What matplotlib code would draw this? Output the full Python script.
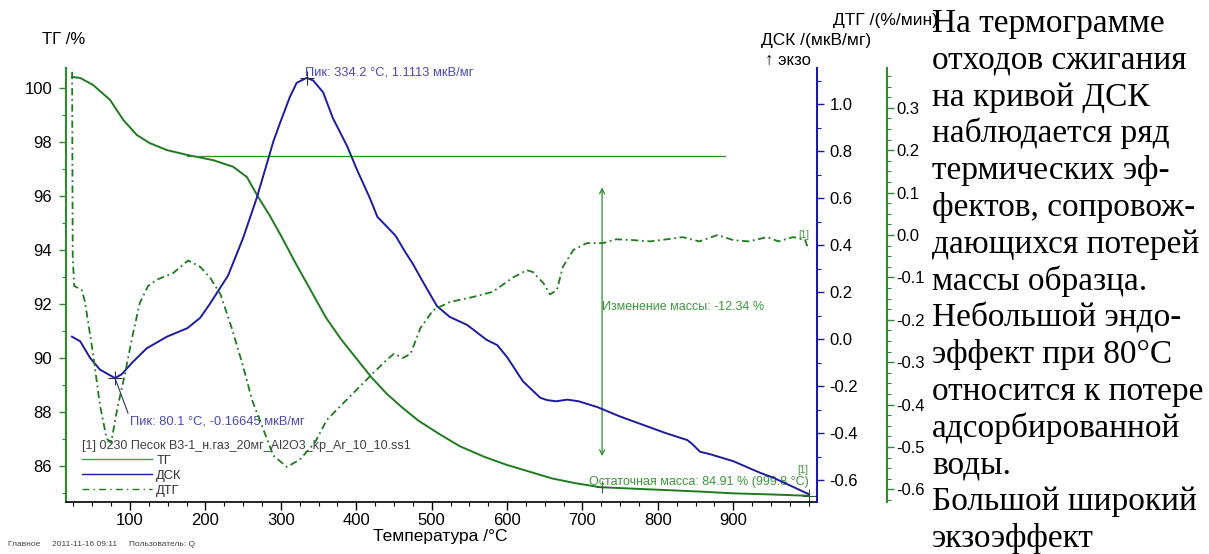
import matplotlib
matplotlib.use('Agg')
import matplotlib.pyplot as plt
import matplotlib.ticker as mticker
from matplotlib.lines import Line2D

plt.rcParams['font.family'] = ['Liberation Sans', 'DejaVu Sans']
plt.rcParams['axes.unicode_minus'] = False

# ТГ, %
tg_t = [23, 34, 51, 73.5, 91, 109, 126, 149, 176, 210, 237, 255, 270, 285, 300, 320, 340,
        360, 380, 400, 420, 440, 460, 482, 510, 537, 570, 600, 630, 660, 690, 723, 770,
        812, 860, 900, 950, 999.8]
tg_v = [100.42, 100.38, 100.12, 99.57, 98.83, 98.27, 97.97, 97.71, 97.53, 97.34, 97.09,
        96.71, 95.97, 95.3, 94.55, 93.5, 92.5, 91.5, 90.7, 90.0, 89.3, 88.7, 88.2, 87.7,
        87.2, 86.75, 86.35, 86.05, 85.8, 85.55, 85.38, 85.23, 85.17, 85.12, 85.06, 85.0,
        84.96, 84.91]

# ДСК, мкВ/мг
dsc_t = [23, 34, 47, 60, 80.1, 89, 103, 122, 149, 176, 193, 206, 230, 250, 268, 280, 290,
         299, 312, 321, 334.2, 343, 356, 369, 388, 401, 418, 428, 440, 452, 465, 475, 489,
         507, 524, 547, 573, 587, 600, 621, 644, 653, 665, 680, 695, 720, 750, 780, 810,
         839, 845, 856, 869, 900, 936, 953, 999.8]
dsc_v = [0.01, -0.01, -0.08, -0.13, -0.16645, -0.15, -0.10, -0.04, 0.01, 0.046, 0.09, 0.15,
         0.27, 0.43, 0.60, 0.73, 0.84, 0.92, 1.03, 1.09, 1.1113, 1.10, 1.05, 0.94, 0.82,
         0.72, 0.60, 0.52, 0.48, 0.44, 0.37, 0.32, 0.24, 0.14, 0.094, 0.06, -0.004, -0.026,
         -0.077, -0.18, -0.25, -0.26, -0.265, -0.258, -0.265, -0.29, -0.33, -0.365, -0.40,
         -0.43, -0.445, -0.48, -0.49, -0.52, -0.57, -0.59, -0.66]

# ДТГ, %/мин
dtg_t = [23, 24, 26, 36, 40, 51, 60, 69, 75, 83, 93, 103, 113, 124, 136, 157, 177, 193, 206,
         220, 235, 250, 262, 272, 290, 308, 325, 345, 361, 392, 420, 440, 450, 462, 472, 485,
         502, 524, 555, 581, 608, 626, 634, 648, 657, 666, 674, 688, 706, 727, 745, 767, 790,
         812, 833, 855, 879, 900, 920, 945, 960, 979, 995, 999.8]
dtg_v = [0.5, -0.05, -0.12, -0.13, -0.155, -0.28, -0.40, -0.48, -0.49, -0.41, -0.33, -0.24,
         -0.16, -0.12, -0.105, -0.09, -0.06, -0.075, -0.10, -0.14, -0.22, -0.31, -0.39,
         -0.436, -0.52, -0.547, -0.53, -0.49, -0.436, -0.38, -0.33, -0.295, -0.28, -0.29,
         -0.28, -0.22, -0.177, -0.158, -0.146, -0.134, -0.10, -0.083, -0.087, -0.113, -0.14,
         -0.13, -0.075, -0.035, -0.019, -0.019, -0.01, -0.012, -0.015, -0.01, -0.005,
         -0.015, 0.0, -0.012, -0.015, -0.005, -0.015, -0.005, -0.01, -0.035]

peak_hi = (334.2, 1.1113)
peak_lo = (80.1, -0.16645)
mass_start, mass_top, mass_bot = 726, 96.33, 86.38
mass_level = 97.49
residual = (999.8, 84.91)

text_lines = ['На термограмме', 'отходов сжигания', 'на кривой ДСК', 'наблюдается ряд',
              'термических эф-', 'фектов, сопровож-', 'дающихся потерей', 'массы образца.',
              'Небольшой эндо-', 'эффект при 80°C', 'относится к потере', 'адсорбированной',
              'воды.', 'Большой широкий', 'экзоэффект']

W, H = 1209, 554
GREEN = '#1e7b1e'
AXGREEN = '#2e8b2e'
BLUE = '#1c1ca0'


def fx(x):
    return x / W


def fy(y):
    return 1 - y / H


fig = plt.figure(figsize=(W / 100, H / 100), dpi=100)
ax = fig.add_axes([fx(66), fy(502), fx(817 - 66), (502 - 68) / H])
ax2 = ax.twinx()
ax3 = ax.twinx()
ax3.spines['right'].set_position(('outward', 70 * 0.72))  # 70 px

ax.plot(tg_t, tg_v, color=GREEN, lw=1.4, label='ТГ')
ax2.plot(dsc_t, dsc_v, color=BLUE, lw=1.4, label='ДСК')
ax3.plot(dtg_t, dtg_v, color=GREEN, lw=1.3, ls=(0, (4, 2, 1, 2)), label='ДТГ')

ax.set_xlim(15.1, 1011)
ax.set_ylim(84.68, 100.75)
ax2.set_ylim(-0.6936, 1.1532)
ax3.set_ylim(-0.6297, 0.394)

# оси
for a in (ax, ax2, ax3):
    a.spines['top'].set_visible(False)
ax.spines['left'].set_color(AXGREEN)
ax.spines['left'].set_linewidth(1.5)
ax.spines['right'].set_visible(False)
ax2.spines['left'].set_visible(False)
ax2.spines['right'].set_color(BLUE)
ax2.spines['right'].set_linewidth(1.5)
ax3.spines['left'].set_visible(False)
ax3.spines['right'].set_color(AXGREEN)
ax3.spines['right'].set_linewidth(1.5)
ax2.spines['bottom'].set_visible(False)
ax3.spines['bottom'].set_visible(False)
ax.spines['bottom'].set_linewidth(1.2)

ax.set_xticks(range(100, 1000, 100))
ax.xaxis.set_minor_locator(mticker.MultipleLocator(25))
ax.yaxis.set_major_locator(mticker.FixedLocator(range(86, 101, 2)))
ax.yaxis.set_minor_locator(mticker.MultipleLocator(1))
ax2.yaxis.set_major_locator(mticker.FixedLocator([-0.6, -0.4, -0.2, 0.0, 0.2, 0.4, 0.6, 0.8, 1.0]))
ax2.yaxis.set_minor_locator(mticker.MultipleLocator(0.1))
ax2.yaxis.set_major_formatter(mticker.FormatStrFormatter('%.1f'))
ax3.yaxis.set_major_locator(mticker.FixedLocator([-0.6, -0.5, -0.4, -0.3, -0.2, -0.1, 0.0, 0.1, 0.2, 0.3]))
ax3.yaxis.set_minor_locator(mticker.AutoMinorLocator(4))
ax3.yaxis.set_major_formatter(mticker.FormatStrFormatter('%.1f'))

ax.tick_params(axis='x', which='major', length=6, width=1, pad=2, labelsize=12)
ax.tick_params(axis='x', which='minor', length=3, width=0.8)
ax.tick_params(axis='y', which='major', length=5, width=1, colors=AXGREEN, labelcolor='black',
               pad=5, labelsize=12)
ax.tick_params(axis='y', which='minor', length=3, width=0.8, colors=AXGREEN)
ax2.tick_params(axis='y', which='major', length=5, width=1, colors=BLUE, labelcolor='black',
                pad=4, labelsize=12)
ax2.tick_params(axis='y', which='minor', length=3, width=0.8, colors=BLUE)
ax3.tick_params(axis='y', which='major', length=5, width=1, colors=AXGREEN, labelcolor='black',
                pad=2, labelsize=12)
ax3.tick_params(axis='y', which='minor', length=3, width=0.8, colors=AXGREEN)

# оценка изменения массы
ax.plot([176, 889], [mass_level, mass_level], color=AXGREEN, lw=0.9)
ax.annotate('', xy=(mass_start, mass_bot), xytext=(mass_start, mass_top),
            arrowprops=dict(arrowstyle='<->', color=AXGREEN, lw=0.9,
                            mutation_scale=9, shrinkA=0, shrinkB=0))
ax.text(mass_start, 91.9, 'Изменение массы: -12.34 %', color='#3c963c', fontsize=9,
        va='center', ha='left')
ax.text(1000, 85.42, 'Остаточная масса: 84.91 % (999.8 °C)', color='#3c963c', fontsize=9,
        va='center', ha='right')
ax.plot(*residual, marker='+', color='#2e5e2e', ms=10, mew=0.8)
ax.plot(mass_start, 85.22, marker='+', color='#2e5e2e', ms=9, mew=0.8)
ax.text(1000, 85.85, '[1]', color='#3c963c', fontsize=7, ha='right', va='center')
ax3.text(1001, 0.0, '[1]', color='#3c963c', fontsize=7, ha='right', va='center')

# пики ДСК
ax2.plot(*peak_hi, marker='+', color='#303050', ms=10, mew=0.8)
ax2.text(peak_hi[0] - 2, 1.136, 'Пик: 334.2 °C, 1.1113 мкВ/мг', color='#4a4ab8',
         fontsize=9.3, ha='left', va='center')
ax2.plot(*peak_lo, marker='+', color='#303050', ms=10, mew=0.8)
ax2.plot([peak_lo[0], 97.3], [peak_lo[1], -0.315], color='#303060', lw=0.8)
ax2.text(100, -0.353, 'Пик: 80.1 °C, -0.16645 мкВ/мг', color='#4a4ab8',
         fontsize=9.3, ha='left', va='center')

# легенда
h_tg = Line2D([], [], color='#4a9a4a', lw=1.0)
h_dsc = Line2D([], [], color=BLUE, lw=1.0)
h_dtg = Line2D([], [], color=GREEN, lw=1.0, ls=(0, (5, 3, 1, 3)))
leg = ax.legend([h_tg, h_dsc, h_dtg], ['ТГ', 'ДСК', 'ДТГ'],
                title='[1] 0230 Песок В3-1_н.газ_20мг_Al2O3_kp_Ar_10_10.ss1',
                loc='upper left', bbox_to_anchor=(fx(82), fy(440)),
                bbox_transform=fig.transFigure, frameon=False, fontsize=9.3,
                title_fontsize=9.0, handlelength=5.4, handletextpad=0.35,
                labelspacing=0.22, borderpad=0, borderaxespad=0, alignment='left')
leg.get_title().set_color('#404040')
for t in leg.get_texts():
    t.set_color('#303030')

# подписи осей
fig.text(fx(42), fy(40), 'ТГ /%', fontsize=12, va='center')
fig.text(fx(761), fy(41), 'ДСК /(мкВ/мг)', fontsize=12.5, va='center')
fig.text(fx(765), fy(60), '↑ экзо', fontsize=12, va='center')
fig.text(fx(833), fy(20), 'ДТГ /(%/мин)', fontsize=12.5, va='center')
fig.text(fx(440), fy(536), 'Температура /°C', fontsize=12.5, va='center', ha='center')
fig.text(fx(8), fy(545), 'Главное     2011-11-16 09:11     Пользователь: Q', fontsize=6,
         va='center', color='#404040')

# текст справа
for i, line in enumerate(text_lines):
    fig.text(fx(932), fy(32 + 36.8 * i), line, fontsize=24, va='baseline', ha='left',
             family=['Liberation Serif', 'DejaVu Serif'])

fig.savefig('out.png', dpi=100)
plt.close(fig)
